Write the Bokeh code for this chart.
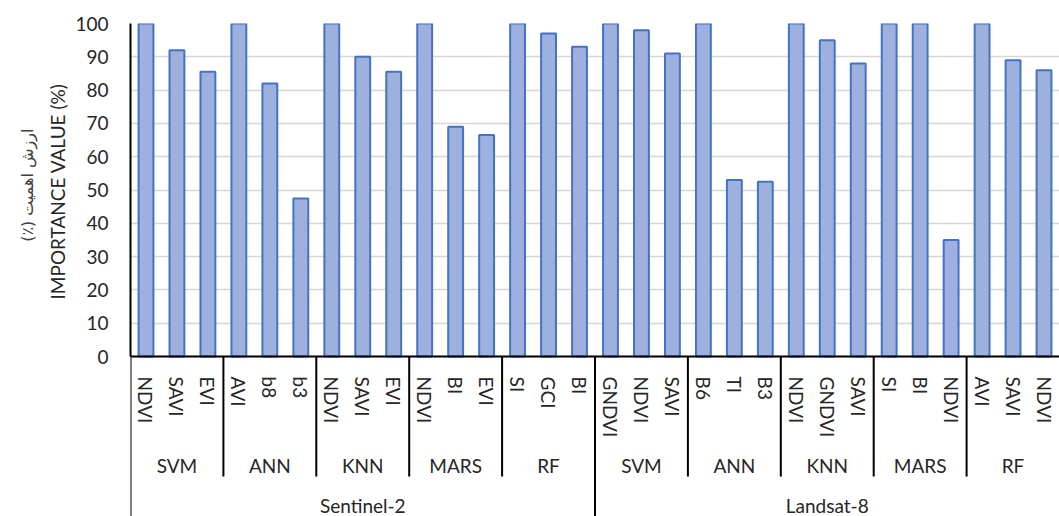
from bokeh.plotting import figure
from bokeh.models import (FactorRange, Range1d, FixedTicker, ColumnDataSource, Title)
from bokeh.embed import file_html
from bokeh.resources import INLINE

# ---------------- data ----------------
satellites = ["Sentinel-2", "Landsat-8"]
models = ["SVM", "ANN", "KNN", "MARS", "RF"]

s2_indices = [["NDVI", "SAVI", "EVI"], ["AVI", "b8", "b3"], ["NDVI", "SAVI", "EVI"],
              ["NDVI", "BI", "EVI"], ["SI", "GCI", "BI"]]
s2_values = [[100, 92, 85.5], [100, 82, 47.5], [100, 90, 85.5],
             [100, 69, 66.5], [100, 97, 93]]

l8_indices = [["GNDVI", "NDVI", "SAVI"], ["B6", "TI", "B3"], ["NDVI", "GNDVI", "SAVI"],
              ["SI", "BI", "NDVI"], ["AVI", "SAVI", "NDVI"]]
l8_values = [[100, 98, 91], [100, 53, 52.5], [100, 95, 88],
             [100, 100, 35], [100, 89, 86]]

y_ticks = list(range(0, 101, 10))
y_label_en = "IMPORTANCE VALUE (%)"
y_label_fa = "\u200fارزش اهمیت (٪)\u200f"

# ---------------- build factors ----------------
factors, values = [], []
group_bounds, top_bounds = [], [0]
count = 0
for sat, idx_groups, val_groups in zip(satellites, [s2_indices, l8_indices],
                                       [s2_values, l8_values]):
    for model, idxs, vals in zip(models, idx_groups, val_groups):
        for ind, v in zip(idxs, vals):
            factors.append((sat, model, ind))
            values.append(v)
            count += 1
        group_bounds.append(count)
    top_bounds.append(count)
group_bounds = [b for b in group_bounds if b not in top_bounds]
top_bounds = [b for b in top_bounds if b < count]

FONT = "Lato"
TXT = "#262626"

x_range = FactorRange(*factors, factor_padding=0, subgroup_padding=0,
                      group_padding=0, range_padding=0)

p = figure(x_range=x_range, y_range=Range1d(-48, 100), width=1059, height=516,
           output_backend="svg", toolbar_location=None,
           min_border_left=130, min_border_right=0, min_border_top=23,
           min_border_bottom=0)
p.outline_line_color = None
p.background_fill_color = "white"

src = ColumnDataSource(dict(x=factors, top=values))
p.vbar(x="x", top="top", width=0.48, source=src, fill_color="#9db0de",
       line_color="#4472c4", line_width=2)

# grid
p.xgrid.grid_line_color = None
p.ygrid.grid_line_color = "#d6d6d6"
p.ygrid.grid_line_width = 1.5
p.yaxis.ticker = FixedTicker(ticks=y_ticks)
p.ygrid.ticker = FixedTicker(ticks=y_ticks)

# y axis
ya = p.yaxis[0]
ya.bounds = (0, 100)
ya.axis_line_color = "black"
ya.axis_line_width = 2
ya.major_tick_line_color = None
ya.major_tick_out = 0
ya.major_tick_in = 0
ya.minor_tick_line_color = None
ya.major_label_standoff = 22
ya.major_label_text_font = FONT
ya.major_label_text_font_size = "19px"
ya.major_label_text_color = TXT

# y titles (English + Persian), placed over the 0-100 value span
p.add_layout(Title(text=y_label_en, align="right", offset=60, standoff=8,
                   text_font=FONT, text_font_size="19px", text_font_style="normal",
                   text_color=TXT), "left")
p.add_layout(Title(text=y_label_fa, align="right", offset=105, standoff=6,
                   text_font="DejaVu Sans", text_font_size="16px",
                   text_font_style="normal", text_color="#404040"), "left")

# x axis (drawn at y = 0, labels below it inside the extended frame)
xa = p.xaxis[0]
xa.fixed_location = 0
xa.axis_line_color = "black"
xa.axis_line_width = 2
xa.major_tick_line_color = None
xa.minor_tick_line_color = None
xa.separator_line_color = None
xa.major_label_orientation = "vertical"
xa.major_label_standoff = 14
xa.major_label_text_font = FONT
xa.major_label_text_font_size = "19px"
xa.major_label_text_color = TXT
xa.subgroup_text_font = FONT
xa.subgroup_text_font_size = "19px"
xa.subgroup_text_font_style = "normal"
xa.subgroup_text_color = TXT
xa.group_text_font = FONT
xa.group_text_font_size = "19px"
xa.group_text_font_style = "normal"
xa.group_text_color = TXT

# Excel-style separator lines below the axis
n_g, n_t = len(group_bounds), len(top_bounds)
sep = ColumnDataSource(dict(
    x=group_bounds + top_bounds,
    y0=[0] * (n_g + n_t),
    y1=[-36] * n_g + [-48] * n_t,
))
p.segment(x0="x", y0="y0", x1="x", y1="y1", source=sep,
          line_color="black", line_width=2)

open("out.html", "w").write(file_html(p, INLINE))
